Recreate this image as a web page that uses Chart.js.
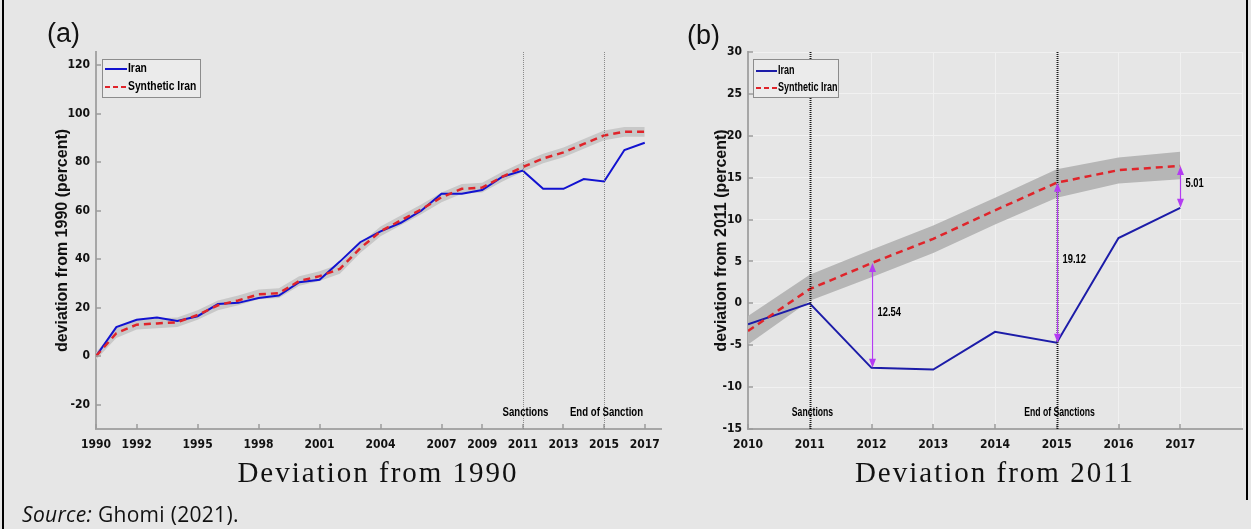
<!DOCTYPE html>
<html>
<head>
<meta charset="utf-8">
<script src="https://cdn.jsdelivr.net/npm/chart.js@4.4.0/dist/chart.umd.min.js"></script>
<style>
  body { margin: 0; background: #e6e6e6; }
  #wrap { position: relative; width: 1251px; height: 529px; overflow: hidden; background: #e6e6e6; font-family: 'Liberation Sans', Arial, sans-serif; color: #111; }
  canvas { position: absolute; top: 0; }
  #chartA { left: 0; }
  #chartB { left: 620px; }
  .panel { position: absolute; top: 18px; font-size: 27px; }
  .xtitle { position: absolute; top: 458px; font-family: 'Liberation Serif', 'Times New Roman', serif; font-size: 29px; line-height: 29px; letter-spacing: 2px; white-space: nowrap; transform: translateX(-50%); }
  .source { position: absolute; left: 22px; top: 500px; font-family: 'Open Sans', sans-serif; font-size: 21px; letter-spacing: 0.3px; white-space: nowrap; }
  .frame { position: absolute; background: #000; width: 2px; }
</style>
</head>
<body>
<div id="wrap">
  <div class="frame" style="left:2px;top:0;height:529px"></div>
  <div class="frame" style="left:1246px;top:0;height:500px"></div>
  <canvas id="chartA" width="680" height="529"></canvas>
  <canvas id="chartB" width="631" height="529"></canvas>
  <div class="panel" style="left:47px">(a)</div>
  <div class="panel" style="left:687px;top:20px">(b)</div>
  <div class="xtitle" style="left:378px">Deviation from 1990</div>
  <div class="xtitle" style="left:995px">Deviation from 2011</div>
  <div class="source"><i>Source:</i> Ghomi (2021).</div>
</div>
<script>
// panel (a): deviation from 1990
const yearsA = [1990, 1991, 1992, 1993, 1994, 1995, 1996, 1997, 1998, 1999, 2000, 2001, 2002, 2003,
  2004, 2005, 2006, 2007, 2008, 2009, 2010, 2011, 2012, 2013, 2014, 2015, 2016, 2017];
const iranA = [0, 12, 15, 16, 14.5, 16.5, 21.5, 22, 24, 25, 30.5, 31.5, 39, 47,
  51.5, 55, 60, 67, 67, 68.5, 74, 76.5, 69, 69, 73, 72, 85, 88];
const synthA = [0, 9.5, 13, 13.5, 14, 17, 21, 23, 25.5, 26, 31, 33, 36, 44.5,
  51.5, 56, 60.5, 65.5, 69, 69.5, 74, 78, 81.5, 84, 87.5, 91, 92.5, 92.5];
const bandHiA = [1.5, 11.5, 15, 15.5, 16, 19, 23, 25, 27.5, 28, 33, 35, 38, 46.5,
  53.5, 58, 62.5, 67.5, 71, 71.5, 76, 80, 83.5, 86, 89.5, 93, 94.5, 94.5];
const bandLoA = [-1.5, 7.5, 11, 11.5, 12, 15, 19, 21, 23.5, 24, 29, 31, 34, 42.5,
  49.5, 54, 58.5, 63.5, 67, 67.5, 72, 76, 79.5, 82, 85.5, 89, 90.5, 90.5];
const xTicksA = [1990, 1992, 1995, 1998, 2001, 2004, 2007, 2009, 2011, 2013, 2015, 2017];
const yTicksA = [-20, 0, 20, 40, 60, 80, 100, 120];
const eventLabelsA = ['Sanctions', 'End of Sanction'];

// panel (b): deviation from 2011
const yearsB = [2010, 2011, 2012, 2013, 2014, 2015, 2016, 2017];
const iranB = [-2.5, 0, -7.7, -7.9, -3.4, -4.7, 7.8, 11.4];
const synthB = [-3.3, 1.7, 4.8, 7.7, 11.1, 14.4, 15.9, 16.4];
const bandHiB = [-1.5, 3.4, 6.4, 9.3, 12.6, 16.0, 17.4, 18.1];
const bandLoB = [-4.9, 0.3, 3.1, 6.0, 9.4, 12.6, 14.3, 14.8];
const xTicksB = [2010, 2011, 2012, 2013, 2014, 2015, 2016, 2017, 2018];
const yTicksB = [-15, -10, -5, 0, 5, 10, 15, 20, 25, 30];
const eventLabelsB = ['Sanctions', 'End of Sanctions'];
const gapYears = [2012, 2015, 2017];
const gapLabels = ['12.54', '19.12', '5.01'];

const eventYears = [2011, 2015];

const SANS = "'Liberation Sans', Arial, sans-serif";
const CONDENSED = "'DejaVu Sans Condensed', 'Liberation Sans Narrow', sans-serif";

function pts(xs, ys) {
  return xs.map((x, i) => ({ x: x, y: ys[i] }));
}

// bold text squeezed sideways, like the narrow MATLAB labels
function narrowText(ctx, text, x, y, size, sx, align) {
  ctx.save();
  ctx.font = 'bold ' + size + 'px ' + SANS;
  ctx.fillStyle = '#000';
  ctx.textAlign = align;
  ctx.textBaseline = 'middle';
  ctx.translate(x, y);
  ctx.scale(sx, 1);
  ctx.fillText(text, 0, 0);
  ctx.restore();
}

// MATLAB style tick marks pointing into the plot
const inwardTicks = {
  id: 'inwardTicks',
  afterDatasetsDraw(chart) {
    const { ctx, chartArea: a, scales: { x, y } } = chart;
    ctx.save();
    ctx.strokeStyle = '#9c9c9c';
    ctx.lineWidth = 1.5;
    ctx.beginPath();
    x.ticks.forEach(t => {
      if (t.value >= x.max) return;
      const px = Math.round(x.getPixelForValue(t.value));
      ctx.moveTo(px, a.bottom);
      ctx.lineTo(px, a.bottom - 5);
    });
    y.ticks.forEach(t => {
      const py = Math.round(y.getPixelForValue(t.value));
      ctx.moveTo(a.left, py);
      ctx.lineTo(a.left + 5, py);
    });
    ctx.stroke();
    ctx.restore();
  }
};

const eventLines = {
  id: 'eventLines',
  afterDatasetsDraw(chart, args, o) {
    const { ctx, chartArea: a, scales: { x } } = chart;
    ctx.save();
    o.years.forEach((yr, i) => {
      const px = Math.round(x.getPixelForValue(yr)) + 0.5;
      ctx.strokeStyle = o.color;
      ctx.lineWidth = o.width;
      ctx.setLineDash(o.dash);
      ctx.beginPath();
      ctx.moveTo(px, a.top);
      ctx.lineTo(px, a.bottom);
      ctx.stroke();
      ctx.setLineDash([]);
      narrowText(ctx, o.labels[i], px + 2, a.bottom - 16, 12, o.squeeze, 'center');
    });
    ctx.restore();
  }
};

const boxLegend = {
  id: 'boxLegend',
  afterDraw(chart, args, o) {
    const { ctx, chartArea: a } = chart;
    const x0 = Math.round(a.left + o.dx), y0 = Math.round(a.top + o.dy);
    ctx.save();
    ctx.fillStyle = '#ebebeb';
    ctx.fillRect(x0, y0, o.w, o.h);
    ctx.strokeStyle = '#8c8c8c';
    ctx.lineWidth = 1;
    ctx.strokeRect(x0 + 0.5, y0 + 0.5, o.w, o.h);
    const items = chart.data.datasets.filter(d => d.label);
    items.forEach((d, i) => {
      const yy = y0 + o.rows[i];
      ctx.strokeStyle = d.borderColor;
      ctx.lineWidth = 2;
      ctx.setLineDash(d.borderDash ? [5, 3] : []);
      ctx.beginPath();
      ctx.moveTo(x0 + 3, yy);
      ctx.lineTo(x0 + 3 + o.lineLen, yy);
      ctx.stroke();
      ctx.setLineDash([]);
      narrowText(ctx, d.label, x0 + 4 + o.lineLen, yy, 12, o.squeeze, 'left');
    });
    ctx.restore();
  }
};

const gapArrows = {
  id: 'gapArrows',
  afterDatasetsDraw(chart, args, o) {
    if (!o.years) return;
    const { ctx, scales: { x, y } } = chart;
    ctx.save();
    ctx.lineWidth = 1.2;
    o.years.forEach((yr, i) => {
      const k = yearsB.indexOf(yr);
      const px = Math.round(x.getPixelForValue(yr)) + 0.5;
      const p1 = y.getPixelForValue(synthB[k]);
      const p2 = y.getPixelForValue(iranB[k]);
      ctx.strokeStyle = o.color;
      ctx.fillStyle = o.color;
      ctx.beginPath();
      ctx.moveTo(px, p1 + 6);
      ctx.lineTo(px, p2 - 6);
      ctx.stroke();
      ctx.beginPath();
      ctx.moveTo(px, p1); ctx.lineTo(px - 3.5, p1 + 9); ctx.lineTo(px + 3.5, p1 + 9); ctx.closePath();
      ctx.moveTo(px, p2); ctx.lineTo(px - 3.5, p2 - 9); ctx.lineTo(px + 3.5, p2 - 9); ctx.closePath();
      ctx.fill();
      narrowText(ctx, o.labels[i], px + 5, (p1 + p2) / 2 - 3, 13, 0.72, 'left');
    });
    ctx.restore();
  }
};

function panel(id, p) {
  return new Chart(document.getElementById(id), {
    type: 'line',
    data: {
      datasets: [
        { data: pts(p.years, p.bandHi), borderWidth: 0, pointRadius: 0, fill: '+1', backgroundColor: p.bandColor, order: 3 },
        { data: pts(p.years, p.bandLo), borderWidth: 0, pointRadius: 0, fill: false, order: 4 },
        { label: 'Iran', data: pts(p.years, p.iran), borderColor: p.blue, borderWidth: 2, pointRadius: 0, fill: false, tension: 0, order: 1 },
        { label: 'Synthetic Iran', data: pts(p.years, p.synth), borderColor: '#e0242a', borderWidth: 2.5, borderDash: [7, 5], pointRadius: 0, fill: false, tension: 0, order: 0 }
      ]
    },
    options: {
      responsive: false,
      animation: false,
      devicePixelRatio: 1,
      layout: { padding: p.padding },
      plugins: {
        legend: { display: false },
        tooltip: { enabled: false },
        eventLines: { years: eventYears, labels: p.eventLabels, color: p.eventColor, width: p.eventWidth, dash: p.eventDash, squeeze: p.squeeze },
        boxLegend: p.legend,
        gapArrows: p.gaps || {}
      },
      scales: {
        x: {
          type: 'linear',
          min: p.xMin,
          max: p.xMax,
          afterBuildTicks: s => { s.ticks = p.xTicks.map(v => ({ value: v })); },
          afterFit: s => { s.height = 30; },
          grid: { display: p.grid, color: '#f1f1f1', lineWidth: 1, drawTicks: false },
          border: { display: true, color: '#a6a6a6', width: 2 },
          ticks: {
            padding: 9, autoSkip: false, maxRotation: 0, color: '#111',
            font: { family: CONDENSED, weight: 'bold', size: 12 },
            callback: v => (v >= 2018 ? '' : String(v))
          }
        },
        y: {
          min: p.yMin,
          max: p.yMax,
          afterBuildTicks: s => { s.ticks = p.yTicks.map(v => ({ value: v })); },
          afterFit: s => { s.width = 46; },
          grid: { display: p.grid, color: '#f1f1f1', lineWidth: 1, drawTicks: false },
          border: { display: true, color: '#a6a6a6', width: 2 },
          title: {
            display: true, text: p.yTitle, color: '#111',
            font: { family: SANS, weight: 'bold', size: 16 },
            padding: { top: p.titlePad, bottom: 0 }
          },
          ticks: {
            padding: 6, autoSkip: false, color: '#111',
            font: { family: CONDENSED, weight: 'bold', size: 12 },
            callback: v => String(v)
          }
        }
      }
    },
    plugins: [inwardTicks, eventLines, boxLegend, gapArrows]
  });
}

panel('chartA', {
  years: yearsA, iran: iranA, synth: synthA, bandHi: bandHiA, bandLo: bandLoA,
  xMin: 1990, xMax: 2017.8, yMin: -30, yMax: 125.4, xTicks: xTicksA, yTicks: yTicksA,
  blue: '#1212d0', bandColor: '#c8c8c8', grid: false,
  padding: { left: 50, top: 52, right: 19, bottom: 70 },
  yTitle: 'deviation from 1990 (percent)', titlePad: 3,
  eventLabels: eventLabelsA, eventColor: '#8a8a8a', eventWidth: 1, eventDash: [1, 1], squeeze: 0.8,
  legend: { dx: 6, dy: 7, w: 98, h: 38, rows: [10, 28], lineLen: 22, squeeze: 0.86 }
});

panel('chartB', {
  years: yearsB, iran: iranB, synth: synthB, bandHi: bandHiB, bandLo: bandLoB,
  xMin: 2010, xMax: 2018, yMin: -15, yMax: 30, xTicks: xTicksB, yTicks: yTicksB,
  blue: '#1c1ca8', bandColor: '#b6b6b6', grid: true,
  padding: { left: 82, top: 52, right: 9, bottom: 70 },
  yTitle: 'deviation from 2011 (percent)', titlePad: 10,
  eventLabels: eventLabelsB, eventColor: '#1a1a1a', eventWidth: 2, eventDash: [1, 1], squeeze: 0.72,
  legend: { dx: 5, dy: 7, w: 85, h: 38, rows: [12, 29], lineLen: 21, squeeze: 0.75 },
  gaps: { years: gapYears, labels: gapLabels, color: '#b43cf2' }
});
</script>
</body>
</html>
